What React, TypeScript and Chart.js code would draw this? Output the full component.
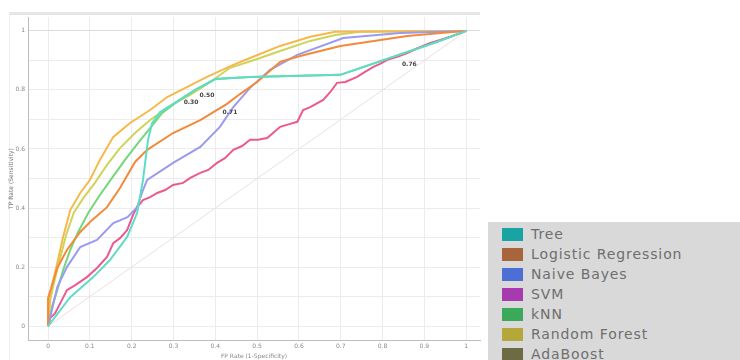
import React, { useEffect, useRef } from "react";
import { Chart, registerables } from "chart.js";

Chart.register(...registerables);

const seriesNames = ["Tree", "Logistic Regression", "Naive Bayes", "SVM", "kNN", "Random Forest", "AdaBoost"];
const legendColors = ["#1aa3a3", "#a8643a", "#4c6fd6", "#a83ab0", "#3aa95a", "#b5a83a", "#6c6b44"];
const lineColors = ["#5fdcc8", "#f28a3a", "#9a9af0", "#ea5a8f", "#74d77a", "#f6b84a", "#cfd35a"];

const treeFpr = [0, 0.053, 0.108, 0.148, 0.189, 0.213, 0.227, 0.239, 0.249, 0.268, 0.311, 0.352, 0.4, 0.483, 0.699, 0.931, 1];
const treeTpr = [0, 0.098, 0.166, 0.224, 0.302, 0.383, 0.495, 0.631, 0.688, 0.725, 0.763, 0.8, 0.837, 0.844, 0.851, 0.963, 1];

const logFpr = [0, 0, 0.022, 0.045, 0.077, 0.105, 0.141, 0.172, 0.208, 0.237, 0.299, 0.364, 0.428, 0.459, 0.5, 0.555, 0.603, 0.699, 0.859, 1];
const logTpr = [0, 0.095, 0.197, 0.258, 0.319, 0.359, 0.403, 0.468, 0.556, 0.597, 0.654, 0.698, 0.753, 0.786, 0.827, 0.895, 0.915, 0.949, 0.983, 1];

const nbFpr = [0, 0.022, 0.045, 0.077, 0.117, 0.156, 0.19, 0.213, 0.227, 0.237, 0.299, 0.364, 0.411, 0.443, 0.483, 0.531, 0.596, 0.706, 0.842, 1];
const nbTpr = [0, 0.132, 0.2, 0.268, 0.292, 0.349, 0.369, 0.403, 0.461, 0.495, 0.553, 0.607, 0.675, 0.742, 0.807, 0.868, 0.919, 0.976, 0.993, 1];

const svmFpr = [0, 0.005, 0.017, 0.033, 0.045, 0.065, 0.093, 0.117, 0.141, 0.156, 0.172, 0.189, 0.203, 0.213, 0.227, 0.244, 0.261, 0.28, 0.299, 0.323, 0.34, 0.364, 0.383, 0.404, 0.423, 0.443, 0.464, 0.483, 0.502, 0.524, 0.538, 0.555, 0.579, 0.596, 0.61, 0.627, 0.658, 0.675, 0.691, 0.711, 0.739, 0.758, 0.778, 0.794, 0.811, 0.835, 0.859, 0.885, 0.914, 0.938, 0.962, 0.981, 1];
const svmTpr = [0, 0.027, 0.044, 0.088, 0.122, 0.139, 0.166, 0.197, 0.234, 0.281, 0.298, 0.325, 0.376, 0.403, 0.427, 0.437, 0.451, 0.461, 0.478, 0.485, 0.502, 0.519, 0.529, 0.553, 0.569, 0.597, 0.61, 0.631, 0.631, 0.637, 0.654, 0.675, 0.685, 0.692, 0.732, 0.742, 0.766, 0.793, 0.824, 0.827, 0.844, 0.861, 0.878, 0.888, 0.902, 0.912, 0.925, 0.942, 0.959, 0.969, 0.98, 0.99, 1];

const knnFpr = [0, 0.01, 0.022, 0.036, 0.053, 0.072, 0.096, 0.124, 0.153, 0.184, 0.215, 0.244, 0.273, 0.311, 0.352, 0.4, 0.483, 0.699, 0.931, 1];
const knnTpr = [0, 0.068, 0.122, 0.19, 0.258, 0.319, 0.383, 0.444, 0.502, 0.563, 0.62, 0.671, 0.722, 0.763, 0.8, 0.837, 0.844, 0.851, 0.963, 1];

const rfFpr = [0, 0.005, 0.022, 0.036, 0.053, 0.077, 0.1, 0.124, 0.156, 0.196, 0.244, 0.285, 0.333, 0.38, 0.443, 0.483, 0.555, 0.627, 0.687, 1];
const rfTpr = [0, 0.112, 0.214, 0.302, 0.393, 0.451, 0.495, 0.563, 0.641, 0.688, 0.732, 0.776, 0.81, 0.844, 0.885, 0.908, 0.949, 0.98, 0.997, 1];

const adaFpr = [0, 0.005, 0.017, 0.029, 0.043, 0.062, 0.086, 0.112, 0.141, 0.172, 0.208, 0.244, 0.292, 0.34, 0.388, 0.435, 0.495, 0.555, 0.627, 0.687, 0.746, 1];
const adaTpr = [0, 0.088, 0.163, 0.231, 0.308, 0.386, 0.437, 0.485, 0.546, 0.603, 0.654, 0.698, 0.746, 0.783, 0.827, 0.875, 0.902, 0.932, 0.966, 0.986, 0.997, 1];

const diagFpr = [0, 1];
const diagTpr = [0, 1];

const xTicks = [0, 0.1, 0.2, 0.3, 0.4, 0.5, 0.6, 0.7, 0.8, 0.9, 1];
const yTicks = [0, 0.1, 0.2, 0.3, 0.4, 0.5, 0.6, 0.7, 0.8, 0.9, 1];
const xTickLabels = ["0", "0.1", "0.2", "0.3", "0.4", "0.5", "0.6", "0.7", "0.8", "0.9", "1"];
const yTickLabels = ["0", "", "0.2", "", "0.4", "", "0.6", "", "0.8", "", "1"];

const thresholdTexts = ["0.50", "0.30", "0.71", "0.76"];
const thresholdFpr = [0.38, 0.342, 0.435, 0.864];
const thresholdTpr = [0.783, 0.759, 0.725, 0.888];

const allFpr = [treeFpr, logFpr, nbFpr, svmFpr, knnFpr, rfFpr, adaFpr];
const allTpr = [treeTpr, logTpr, nbTpr, svmTpr, knnTpr, rfTpr, adaTpr];

const toPoints = (xs: number[], ys: number[]) => xs.map((x, i) => ({ x, y: ys[i] }));

const thresholdPlugin = {
  id: "thresholdLabels",
  afterDatasetsDraw(chart: any) {
    const { ctx, scales } = chart;
    ctx.save();
    ctx.font = "bold 6px 'DejaVu Sans', sans-serif";
    ctx.fillStyle = "#444";
    ctx.textAlign = "center";
    ctx.textBaseline = "middle";
    thresholdTexts.forEach((t, i) => {
      ctx.fillText(t, scales.x.getPixelForValue(thresholdFpr[i]), scales.y.getPixelForValue(thresholdTpr[i]));
    });
    ctx.restore();
  },
};

export default function App() {
  const ref = useRef<HTMLCanvasElement>(null);
  useEffect(() => {
    if (!ref.current) return;
    const datasets: any[] = seriesNames.map((name, i) => ({
      label: name,
      data: toPoints(allFpr[i], allTpr[i]),
      borderColor: lineColors[i],
      backgroundColor: lineColors[i],
      borderWidth: 2,
      pointRadius: 0,
      tension: 0,
      fill: false,
    }));
    datasets.push({
      label: "diagonal",
      data: toPoints(diagFpr, diagTpr),
      borderColor: "#ecdede",
      borderWidth: 1,
      pointRadius: 0,
      fill: false,
    });
    const chart = new Chart(ref.current, {
      type: "line",
      data: { datasets },
      plugins: [thresholdPlugin],
      options: {
        animation: false,
        responsive: false,
        layout: { padding: { left: 0, right: 260, top: 17, bottom: 0 } },
        plugins: { legend: { display: false }, tooltip: { enabled: false } },
        scales: {
          x: {
            type: "linear",
            min: -0.048,
            max: 1.033,
            afterBuildTicks: (s: any) => {
              s.ticks = xTicks.map((v) => ({ value: v }));
            },
            afterFit: (s: any) => {
              s.height = 20;
            },
            ticks: {
              autoSkip: false,
              maxRotation: 0,
              padding: 3,
              color: "#888",
              font: { size: 6, family: "'DejaVu Sans', sans-serif" },
              callback: (v: any) => {
                const i = xTicks.indexOf(Number(v));
                return i >= 0 ? xTickLabels[i] : "";
              },
            },
            grid: { color: "#ececec", drawTicks: false },
            border: { color: "#bdbdbd" },
            title: {
              display: true,
              text: "FP Rate (1-Specificity)",
              color: "#888",
              font: { size: 6, family: "'DejaVu Sans', sans-serif" },
              padding: { top: 0, bottom: 0 },
            },
          },
          y: {
            type: "linear",
            min: -0.047,
            max: 1.047,
            afterBuildTicks: (s: any) => {
              s.ticks = yTicks.map((v) => ({ value: v }));
            },
            afterFit: (s: any) => {
              s.width = 28;
            },
            ticks: {
              autoSkip: false,
              padding: 3,
              color: "#888",
              font: { size: 6, family: "'DejaVu Sans', sans-serif" },
              callback: (v: any) => {
                const i = yTicks.indexOf(Number(v));
                return i >= 0 ? yTickLabels[i] : "";
              },
            },
            grid: {
              color: (c: any) => (c.tick && c.tick.value === 1 ? "#dcdcdc" : "#ececec"),
              drawTicks: false,
            },
            border: { color: "#bdbdbd" },
            title: {
              display: true,
              text: "TP Rate (Sensitivity)",
              color: "#777",
              font: { size: 6, family: "'DejaVu Sans', sans-serif" },
              padding: { top: 8, bottom: 0 },
            },
          },
        },
      },
    });
    return () => chart.destroy();
  }, []);

  return (
    <div style={{ position: "absolute", left: 0, top: 0, width: 740, height: 360, background: "#fff", overflow: "hidden" }}>
      <div
        style={{
          position: "absolute",
          left: 9,
          top: 12,
          width: 471,
          height: 360,
          borderTop: "3px solid #e6e6e6",
          borderLeft: "1px solid #efefef",
          boxSizing: "border-box",
        }}
      />
      <canvas ref={ref} width={740} height={360} style={{ position: "absolute", left: 0, top: 0, width: 740, height: 360 }} />
      <div
        style={{
          position: "absolute",
          left: 488,
          top: 222,
          width: 252,
          height: 138,
          background: "#d9d9d9",
          overflow: "hidden",
          fontFamily: "'DejaVu Sans', sans-serif",
          fontSize: 14,
          letterSpacing: 0.9,
          color: "#6e6e6e",
          paddingTop: 2,
          boxSizing: "border-box",
        }}
      >
        {seriesNames.map((name, i) => (
          <div key={name} style={{ display: "flex", alignItems: "center", height: 20, paddingLeft: 14 }}>
            <span style={{ display: "inline-block", width: 21, height: 13, background: legendColors[i], marginRight: 8, flexShrink: 0 }} />
            <span style={{ whiteSpace: "nowrap" }}>{name}</span>
          </div>
        ))}
      </div>
    </div>
  );
}
